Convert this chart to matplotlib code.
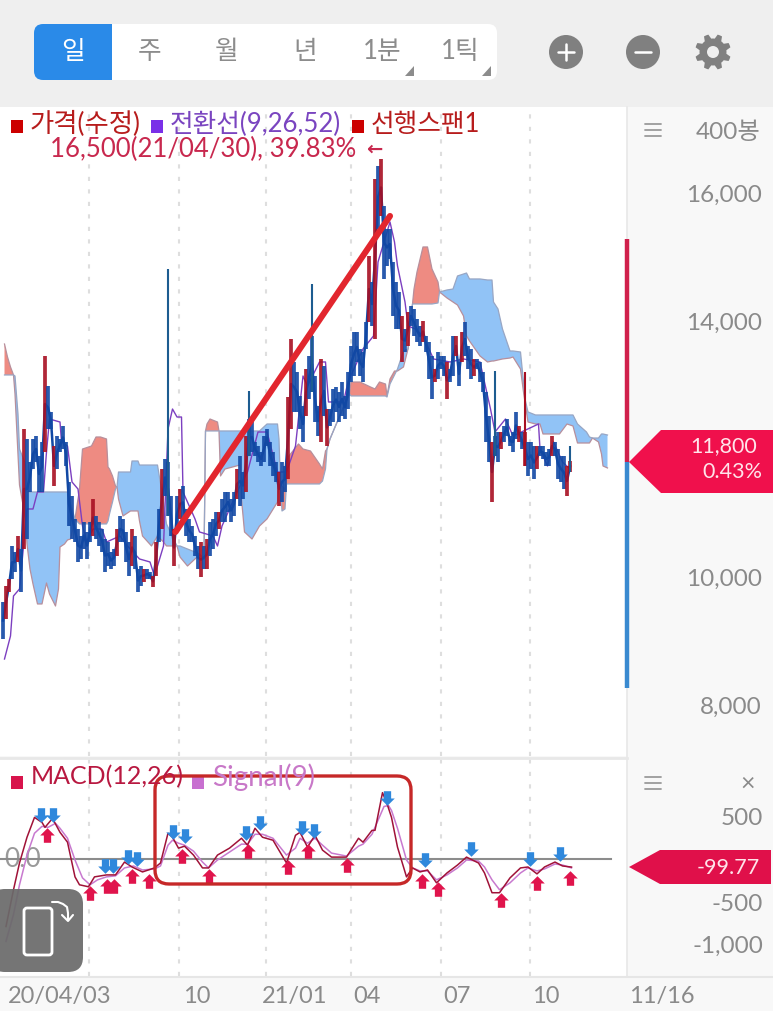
import matplotlib
matplotlib.use('Agg')
import matplotlib.pyplot as plt
import numpy as np
from matplotlib.patches import FancyBboxPatch, Polygon, Rectangle, Circle
from matplotlib.path import Path

W, H = 773, 1012
FONT = ['Lato', 'Noto Sans CJK KR', 'DejaVu Sans']
plt.rcParams['font.family'] = FONT

# daily bars, one entry per two sessions
highs = [9594, 9844, 9953, 10469, 10375, 10625, 10422, 12297, 12141, 11781, 12141, 12188, 11875, 12094, 13438, 12969, 12563, 12031, 12188, 12141,
         12344, 12094, 11469, 11250, 10891, 10734, 10625, 10844, 10688, 10844, 11203, 10938, 10844, 10734, 10578, 10531, 10375, 10422, 10734, 10938,
         10891, 10688, 10531, 10734, 10625, 10109, 10156, 10109, 10109, 10063, 10000, 10531, 11047, 11672, 11828, 11781, 11250, 10734, 11250, 11359,
         11406, 11047, 10891, 10781, 10625, 10469, 10531, 10469, 10578, 10844, 10891, 11000, 11000, 11203, 11313, 11313, 11203, 11313, 11672, 11875,
         11625, 12188, 12453, 12406, 12094, 12031, 11938, 12188, 12297, 12094, 11938, 11781, 11625, 11781, 11719, 12797, 13703, 13344, 13188, 12813,
         12656, 13234, 13438, 13750, 13125, 12656, 13391, 13281, 12609, 12609, 12922, 12953, 12875, 13031, 12813, 13188, 13594, 13813, 13813, 13547,
         13500, 13969, 15000, 14594, 16203, 16406, 16516, 15781, 15422, 15422, 14906, 14594, 14438, 14063, 13859, 14125, 14219, 14172, 14016, 13906,
         13984, 13750, 13656, 13438, 13234, 13500, 13438, 13438, 13344, 13234, 13750, 13750, 13344, 13813, 13969, 13594, 13547, 13391, 13391, 13344,
         13188, 12875, 12500, 12094, 12188, 12250, 12250, 12344, 12453, 12188, 12250, 12563, 12344, 12250, 12250, 12094, 12094, 12031, 12031, 12031,
         12031, 11938, 11984, 12188, 12094, 11984, 11875, 11875, 11719, 11797]
lows = [9016, 9328, 9750, 9953, 10063, 10219, 9750, 10422, 10578, 11313, 11672, 11781, 11313, 11313, 11938, 12297, 12297, 11406, 11672, 11938,
        11984, 11719, 10781, 10578, 10531, 10219, 10266, 10422, 10266, 10531, 10625, 10578, 10469, 10375, 10063, 10156, 10109, 10156, 10313, 10531,
        10531, 10219, 10000, 10156, 10109, 9750, 9844, 9906, 9953, 9953, 9830, 10000, 10531, 10734, 11250, 10938, 10625, 10156, 10688, 10891,
        10891, 10625, 10531, 10531, 10313, 10109, 9984, 10109, 10109, 10313, 10422, 10625, 10734, 10844, 10844, 11000, 10844, 10938, 11203, 11094,
        11203, 11313, 11875, 11938, 11875, 11781, 11719, 11781, 12031, 11719, 11563, 11469, 11094, 11156, 11313, 11516, 12297, 12563, 12563, 12297,
        12094, 12500, 12766, 12875, 12406, 12188, 12094, 12500, 12031, 12344, 12406, 12563, 12406, 12500, 12453, 12609, 13031, 13125, 13344, 13125,
        13031, 13547, 13969, 13906, 13703, 15422, 15625, 14641, 14844, 14953, 14063, 13859, 13859, 13344, 13500, 13594, 13906, 13750, 13656, 13594,
        13656, 13500, 13078, 12766, 13031, 13078, 13234, 13125, 12766, 13031, 13125, 13438, 12969, 13344, 13438, 13234, 13078, 13125, 13234, 13031,
        12875, 12094, 11781, 11156, 11875, 11781, 11984, 12094, 12188, 12031, 11938, 12141, 12094, 11984, 11719, 11563, 11672, 11516, 11672, 11875,
        11828, 11719, 11719, 11875, 11875, 11516, 11469, 11359, 11250, 11625]
red_bars = [2, 3, 6, 8, 15, 18, 31, 39, 44, 48, 51, 52, 54, 58, 60, 67, 69, 73, 79, 82, 93, 96, 97, 102, 107, 109, 123, 125, 127, 134, 136,
            141, 145, 149, 152, 154, 158, 164, 167, 173, 175, 179, 184, 189, 190]
spike_bars = [56, 83, 104, 165, 175, 190]
spike_high = [14797, 12891, 14563, 13203, 13188, 12031]

# ichimoku
conv_x = [3, 7, 9, 13, 18, 22, 25, 29, 31, 33, 40, 41, 45, 48, 52, 55, 58, 62, 68, 71, 80, 85, 93, 100, 103, 109, 112, 115, 118, 121, 122, 130, 133,
          142, 145, 148, 153, 160, 165, 172, 178, 185, 191, 197, 202, 205, 213, 217, 219, 229, 232, 242, 249, 252, 260, 263, 265, 270, 272, 277, 282,
          289, 300, 309, 320, 327, 330, 337, 342, 359, 360, 365, 369, 375, 380]
conv_line = [8703, 9063, 9688, 9797, 11047, 11047, 11313, 11313, 11938, 12453, 12406, 12094, 12031, 11469, 11359, 10781, 10531, 10734, 10734, 10531,
             10625, 10469, 10266, 10219, 10000, 10469, 12297, 12609, 12484, 12484, 11313, 10891, 10688, 10625, 10469, 10781, 11047, 11406, 11625, 12250,
             12250, 11625, 11625, 12031, 13125, 12969, 13344, 13344, 12719, 12719, 13031, 13547, 13750, 14906, 15531, 15219, 14844, 14281, 13906, 13859,
             13750, 13391, 13344, 13391, 13344, 12609, 12250, 12453, 12188, 12375, 11984, 11719, 12094, 11781, 11672]
span_x = [3, 5, 7, 9, 10, 12, 13, 17, 18, 20, 22, 25, 28, 31, 33, 37, 39, 40, 43, 45, 47, 50, 53, 55, 61, 64, 67, 71, 72, 73, 75, 77, 78, 79, 82, 87, 88, 92,
          93, 95, 101, 105, 109, 111, 118, 120, 125, 130, 133, 136, 137, 138, 140, 145, 146, 147, 150, 160, 161, 163, 168, 173, 178, 185, 186, 187, 188, 190,
          191, 199, 202, 207, 213, 215, 217, 218, 220, 227, 233, 234, 240, 247, 250, 253, 257, 258, 260, 263, 265, 269, 272, 275, 276, 278, 282, 285, 288, 292,
          293, 298, 302, 305, 309, 311, 313, 320, 325, 328, 329, 332, 335, 340, 342, 347, 349, 350, 352, 357, 360, 362, 373, 378, 382, 385, 391, 393, 395, 399,
          401, 402, 405]
span1 = [13625, 13422, 13266, 13141, 12844, 11906, 11422, 10891, 10500, 10109, 9875, 9563, 9563, 9891, 9719, 9531, 9797, 10453, 10500, 10563, 10578, 10891,
         11359, 11984, 12031, 12172, 12172, 12141, 11703, 11672, 11563, 11406, 11391, 11203, 10938, 11016, 11016, 11016, 10859, 10625, 10469, 10625, 10531, 10469,
         10469, 10297, 10156, 10266, 10328, 10266, 12266, 12375, 12453, 12406, 12266, 11563, 11672, 11734, 11203, 10688, 10578, 10781, 10891, 11156, 11469, 11406,
         11406, 11359, 11828, 12063, 11984, 11953, 11750, 11672, 11953, 11984, 12141, 12531, 12844, 13031, 13031, 12953, 12922, 13031, 13000, 12813, 13078, 13203,
         13203, 13266, 13547, 14250, 14484, 14750, 15141, 15141, 14797, 14594, 14438, 14344, 14281, 14234, 14063, 13750, 13672, 13438, 13344, 13359, 13359, 13375,
         13391, 13406, 13422, 13234, 12875, 12719, 12406, 12375, 12375, 12219, 12219, 12375, 12344, 12078, 12078, 12078, 12156, 12094, 11906, 11719, 11688]
span2 = [13141, 13141, 13141, 13141, 13125, 12531, 11984, 11750, 11313, 11313, 11313, 11313, 11313, 11313, 11313, 11313, 11313, 11313, 11313, 11313, 11125, 10891,
         10813, 10813, 10813, 10813, 10813, 10813, 10859, 10969, 11156, 11359, 11391, 11625, 11625, 11625, 11797, 11797, 11734, 11734, 11734, 11734, 11156, 10813,
         10469, 10469, 10422, 10375, 10344, 10266, 12266, 12266, 12266, 12266, 12266, 12266, 12266, 12266, 12266, 12266, 12266, 12266, 12375, 12375, 12141, 11406,
         11016, 11047, 11438, 11438, 11438, 11438, 11438, 11484, 11672, 11984, 12141, 12531, 12844, 12813, 12813, 12813, 12813, 12813, 12813, 12797, 13000, 13141,
         13234, 13516, 13547, 14250, 14250, 14250, 14250, 14250, 14250, 14266, 14438, 14469, 14484, 14688, 14719, 14734, 14641, 14641, 14625, 14625, 14281, 14172,
         13859, 13516, 13516, 13500, 13031, 12766, 12563, 12516, 12516, 12516, 12516, 12516, 12516, 12375, 12250, 12172, 12156, 12156, 12219, 12219, 12203]

# MACD panel
macd_x = [4, 9, 13, 18, 23, 28, 30, 35, 40, 45, 50, 53, 59, 63, 71, 77, 83, 88, 95, 103, 107, 112, 115, 119, 123, 129, 135, 139, 145, 153, 161, 165, 170, 175,
          182, 191, 197, 200, 205, 210, 215, 221, 231, 239, 242, 248, 250, 255, 258, 261, 265, 271, 275, 280, 285, 291, 298, 305, 311, 319, 323, 328, 333, 340,
          347, 352, 358, 363, 370, 375, 381]
macd = [-797, -366, -52, 250, 483, 424, 366, 471, 308, 192, -215, -308, -331, -215, -192, -192, -41, -99, -157, -110, -52, 297, 250, 122, 145, 41, -110, -110,
        41, 122, 238, 157, 355, 250, 215, -52, 273, 308, 134, 273, 99, 17, 17, 238, 192, 331, 331, 773, 645, 483, 134, -215, -110, -157, -134, -285, -169, -76,
        17, -52, -169, -401, -401, -227, -110, -99, -180, -99, -41, -87, -100]
signal_x = [4, 9, 13, 18, 23, 28, 32, 37, 40, 45, 50, 55, 60, 65, 71, 77, 83, 89, 95, 103, 107, 112, 115, 119, 123, 129, 135, 139, 145, 153, 161, 165, 170, 175,
            182, 191, 197, 200, 205, 210, 215, 221, 231, 239, 242, 248, 252, 256, 259, 261, 265, 271, 275, 280, 285, 291, 298, 305, 311, 319, 323, 328, 333, 340,
            347, 352, 358, 363, 370, 375, 381]
signal = [-971, -657, -308, 41, 297, 378, 366, 413, 355, 238, -17, -227, -308, -250, -215, -203, -110, -87, -134, -122, -87, 157, 215, 180, 157, 87, -41, -110,
          -17, 76, 169, 169, 285, 285, 238, 41, 122, 238, 180, 238, 157, 64, 29, 145, 169, 285, 448, 611, 622, 564, 355, -17, -110, -145, -145, -250, -192, -110,
          -17, -29, -99, -250, -366, -285, -169, -110, -145, -122, -64, -76, -110]
sell_x = [27, 35, 70, 75, 85, 91, 115, 123, 164, 173, 201, 209, 258, 283, 314, 353, 373]
sell_y = [506, 506, -87, -87, 17, -6, 308, 262, 297, 413, 355, 320, 715, -17, 110, -6, 52]
buy_x = [31, 60, 71, 76, 88, 99, 121, 139, 165, 192, 205, 231, 281, 292, 334, 358, 380]
buy_y = [273, -401, -320, -320, -203, -262, 29, -203, 87, -99, 87, -76, -262, -355, -483, -285, -227]

date_ticks = [59, 119, 177, 234, 294, 353]
date_labels = ['20/04/03', '10', '21/01', '04', '07', '10']
date_label_x = [8, 183, 262, 353, 443, 532]
price_ticks = [8000, 10000, 12000, 14000, 16000]
price_labels = ['8,000', '10,000', '', '14,000', '16,000']
macd_ticks = [-1000, -500, 500]
macd_labels = ['-1,000', '-500', '500']
trend_x = [117, 260]
trend_y = [10688, 15625]
tabs = ['일', '주', '월', '년', '1분', '1틱']
tab_x = [73, 150, 227, 305, 382, 460]

RED = '#a80f22'
BLUE = '#1148a4'
GREY = '#8a8a8a'

fig = plt.figure(figsize=(W / 100, H / 100), dpi=100)


def px_axes(x0, y0, x1, y1, z):
    return fig.add_axes([x0 / W, 1 - y1 / H, (x1 - x0) / W, (y1 - y0) / H], zorder=z)


bg = px_axes(0, 0, W, H, 0)
bg.set_xlim(0, W)
bg.set_ylim(H, 0)
bg.axis('off')
bg.add_patch(Rectangle((0, 0), W, H, fc='#f8f8f8', ec='none'))
bg.add_patch(Rectangle((0, 0), W, 108, fc='#efefef', ec='none'))

ax = px_axes(0, 108, 627, 757, 1)
ax.set_xlim(0, 418)
ax.set_ylim(7187.5, 17328)
for s in ax.spines.values():
    s.set_visible(False)
ax.set_xticks(date_ticks)
ax.tick_params(axis='x', length=0, labelbottom=False)
ax.grid(axis='x', color='#dedede', linewidth=1.5, linestyle=(0, (2, 4)))
ax.set_axisbelow(True)
ax.yaxis.tick_right()
ax.set_yticks(price_ticks)
ax.set_yticklabels(price_labels, fontsize=17.5, color=GREY, ha='right')
ax.tick_params(axis='y', length=0, pad=97)

s1 = np.array(span1)
s2 = np.array(span2)
ax.fill_between(span_x, s1, s2, where=s1 >= s2, interpolate=True, color='#ee8b82', linewidth=0, zorder=2)
ax.fill_between(span_x, s1, s2, where=s1 <= s2, interpolate=True, color='#91c3f6', linewidth=0, zorder=2)
ax.plot(span_x, span1, color='#b78f9c', linewidth=0.9, zorder=3)
ax.plot(span_x, span2, color='#98a6c4', linewidth=0.9, zorder=3)
ax.plot(conv_x, conv_line, color='#7c3fc0', linewidth=1, zorder=3)

bars = np.arange(1, len(highs) + 1)
mids = (np.array(highs) + np.array(lows)) / 2
colors = [RED if b in red_bars else BLUE for b in bars]
# thin link so the bars read as one run of candles
ax.plot(bars * 2, mids, color=BLUE, linewidth=1.8, zorder=4)
ax.vlines(bars * 2, lows, highs, colors=colors, linewidth=2.7, zorder=4, alpha=0.9)
for b, h in zip(spike_bars, spike_high):
    ax.vlines(b * 2, lows[b - 1], h, color='#1d5c90' if b != 175 else RED, linewidth=1.5, zorder=4)
ax.plot(trend_x, trend_y, color='#e2262e', linewidth=4.4, solid_capstyle='round', zorder=6)

mx = px_axes(0, 760, 627, 977, 1)
mx.set_xlim(0, 418)
mx.set_ylim(-1378, 1168)
for s in mx.spines.values():
    s.set_visible(False)
mx.set_xticks(date_ticks)
mx.tick_params(axis='x', length=0, labelbottom=False)
mx.grid(axis='x', color='#dedede', linewidth=1.5, linestyle=(0, (2, 4)))
mx.set_axisbelow(True)
mx.yaxis.tick_right()
mx.set_yticks(macd_ticks)
mx.set_yticklabels(macd_labels, fontsize=17.5, color=GREY, ha='right')
mx.tick_params(axis='y', length=0, pad=98)
mx.plot([0, 407], [0, 0], color='#8c8c8c', linewidth=1.5, zorder=2)
mx.plot(signal_x, signal, color='#c879cf', linewidth=1.1, zorder=3)
mx.plot(macd_x, macd, color='#a01238', linewidth=1.1, zorder=4)

up_arrow = Path([(-0.25, -0.5), (0.25, -0.5), (0.25, 0), (0.5, 0), (0, 0.5), (-0.5, 0), (-0.25, 0), (-0.25, -0.5)], closed=True)
down_arrow = Path([(-0.25, 0.5), (0.25, 0.5), (0.25, 0), (0.5, 0), (0, -0.5), (-0.5, 0), (-0.25, 0), (-0.25, 0.5)], closed=True)
mx.scatter(buy_x, buy_y, marker=up_arrow, s=110, color='#e0144c', linewidths=0, zorder=5)
mx.scatter(sell_x, sell_y, marker=down_arrow, s=110, color='#2f88dc', linewidths=0, zorder=5)
mx.text(3, 0, '0.0', fontsize=19, color='#999999', va='center', zorder=1)

# everything below is the app chrome, placed in screen pixels
ui = px_axes(0, 0, W, H, 2)
ui.set_xlim(0, W)
ui.set_ylim(H, 0)
ui.axis('off')
ui.patch.set_alpha(0)


def T(x, y, s, size=18.5, color=GREY, ha='left', **kw):
    ui.text(x, y, s, fontsize=size, color=color, ha=ha, va='center', **kw)


def L(xs, ys, color=GREY, lw=1.5):
    ui.plot(xs, ys, color=color, linewidth=lw, solid_capstyle='round')


ui.plot([627, 627], [108, 977], color='#e8e8e8', linewidth=1.2)
ui.plot([0, 627], [758.5, 758.5], color='#e8e8e8', linewidth=2)
ui.plot([0, W], [977.5, 977.5], color='#e6e6e6', linewidth=1.5)

ui.add_patch(FancyBboxPatch((34, 25), 463, 56, boxstyle='round,pad=0,rounding_size=9', fc='white', ec='none'))
ui.add_patch(FancyBboxPatch((34, 25), 90, 56, boxstyle='round,pad=0,rounding_size=9', fc='#2a8ae8', ec='none'))
ui.add_patch(Rectangle((112, 25), 14, 56, fc='white', ec='none'))
for i in range(len(tabs)):
    T(tab_x[i], 51, tabs[i], size=18.5, color='white' if i == 0 else '#8c8c8c', ha='center')
for x in [415, 492]:
    ui.add_patch(Polygon([(x - 10, 77), (x - 1, 77), (x - 1, 67)], fc='#8c8c8c', ec='none'))
for x in [566, 643]:
    ui.add_patch(Circle((x, 53), 17, fc='#808080', ec='none'))
    L([x - 8, x + 8], [53, 53], color='white', lw=1.8)
L([566, 566], [45, 61], color='white', lw=1.8)

# gear
ang = np.linspace(0, 2 * np.pi, 48, endpoint=False) + np.pi / 8 - np.pi / 24
rad = np.where(np.arange(48) % 6 < 3, 18, 13.5)
ui.add_patch(Polygon(np.column_stack([713 + rad * np.cos(ang), 53 + rad * np.sin(ang)]), fc='#808080', ec='none'))
ui.add_patch(Circle((713, 53), 6, fc='#efefef', ec='none'))

ui.add_patch(Rectangle((11, 121), 12, 13, fc='#cc0000', ec='none'))
T(30, 124, '가격(수정)', size=19, color='#b71c1c')
ui.add_patch(Rectangle((151, 121), 12, 13, fc='#7a30e8', ec='none'))
T(170, 124, '전환선(9,26,52)', color='#7a45c0')
ui.add_patch(Rectangle((352, 121), 12, 13, fc='#cc0000', ec='none'))
T(371, 124, '선행스팬1', color='#b71c1c')
T(50, 149, '16,500(21/04/30), 39.83%', color='#c8284e')
T(366, 149, '\u2190', size=14, color='#c8284e', family='DejaVu Sans', fontweight='bold')

for y in [125, 131, 137]:
    L([645, 661], [y, y], color='#9a9a9a', lw=1.3)
T(760, 132, '400봉', size=17.5, ha='right')
ui.plot([627, 627], [240, 463], color='#d0204c', linewidth=3.2, solid_capstyle='butt')
ui.plot([627, 627], [463, 689], color='#3a8ad0', linewidth=3.2, solid_capstyle='butt')
ui.add_patch(Polygon([(629, 463), (661, 431), (773, 431), (773, 494), (661, 494)], fc='#f0104c', ec='none'))
T(757, 446, '11,800', size=15.5, color='#ffe4ea', ha='right')
T(762, 472, '0.43%', size=15.5, color='#ffe4ea', ha='right')

ui.add_patch(Rectangle((11, 777), 12, 13, fc='#d8144c', ec='none'))
T(31, 777, 'MACD(12,26)', size=18, color='#b81840')
ui.add_patch(Rectangle((192, 777), 12, 13, fc='#c870d0', ec='none'))
T(212, 777, 'Signal(9)', size=20, color='#c878c8')
for y in [778, 784, 790]:
    L([645, 661], [y, y], color='#9a9a9a', lw=1.3)
T(748, 783, '×', ha='center', size=18)
ui.add_patch(Polygon([(629, 868), (660, 851), (771, 851), (771, 885), (660, 885)], fc='#e0104a', ec='none'))
T(760, 868, '-99.77', size=15.5, color='#ffe4ea', ha='right')

ui.add_patch(FancyBboxPatch((155, 777), 256, 108, boxstyle='round,pad=0,rounding_size=14', fc='none', ec='#c62828', linewidth=2.4))

ui.add_patch(FancyBboxPatch((-10, 890), 93, 83, boxstyle='round,pad=0,rounding_size=15', fc='#6a6a6a', ec='none', alpha=0.93))
ui.add_patch(FancyBboxPatch((24, 909), 28, 47, boxstyle='round,pad=0,rounding_size=3', fc='none', ec='white', linewidth=2))
L([52, 58, 63, 67, 68, 68], [903, 903, 905, 908, 914, 921], color='white', lw=1.5)
L([62, 68, 73], [916, 922, 916], color='white', lw=1.5)

for i in range(len(date_labels)):
    T(date_label_x[i], 997, date_labels[i], size=17)
T(629, 997, '11/16', size=17)

fig.savefig('out.png', dpi=100)
